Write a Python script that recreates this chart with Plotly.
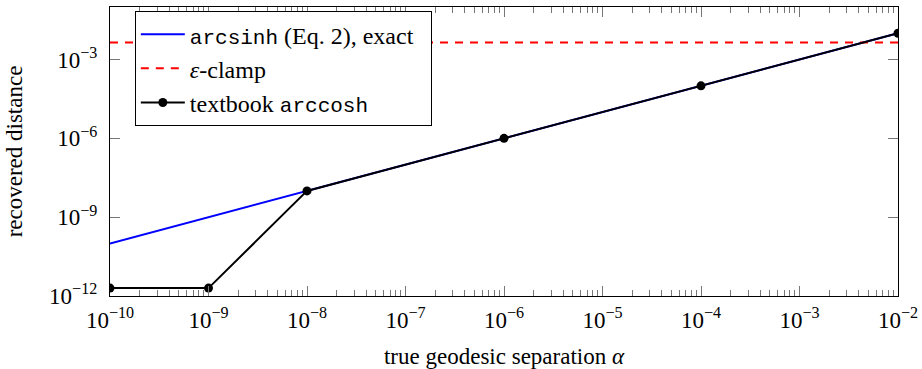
import plotly.graph_objects as go

# ---- data ----
alpha = [1e-10, 1e-9, 1e-8, 1e-6, 1e-4, 1e-2]
arcsinh_exact = [1e-10, 1e-9, 1e-8, 1e-6, 1e-4, 1e-2]
textbook_arccosh = [2e-12, 2e-12, 1e-8, 1e-6, 1e-4, 1e-2]
eps_clamp_value = 4.5e-3
clamp_x = [1e-10, 1e-2]

x_tick_vals = [1e-10, 1e-9, 1e-8, 1e-7, 1e-6, 1e-5, 1e-4, 1e-3, 1e-2]
x_tick_text = ["10<sup>−10</sup>", "10<sup>−9</sup>", "10<sup>−8</sup>", "10<sup>−7</sup>",
               "10<sup>−6</sup>", "10<sup>−5</sup>", "10<sup>−4</sup>", "10<sup>−3</sup>",
               "10<sup>−2</sup>"]
y_tick_vals = [1e-12, 1e-9, 1e-6, 1e-3]
y_tick_text = ["10<sup>−12</sup>", "10<sup>−9</sup>", "10<sup>−6</sup>", "10<sup>−3</sup>"]

SERIF = "Liberation Serif"
MONO_SPAN = '<span style="font-family:Liberation Mono;font-size:21px">{}</span>'

fig = go.Figure()
fig.add_trace(go.Scatter(
    x=alpha, y=arcsinh_exact, mode="lines",
    line=dict(color="#0000ff", width=2),
    name=MONO_SPAN.format("arcsinh") + " (Eq. 2), exact&nbsp;&nbsp;",
    legendgroup="a",
))
fig.add_trace(go.Scatter(
    x=clamp_x, y=[eps_clamp_value] * len(clamp_x), mode="lines",
    line=dict(color="#ff0000", width=2, dash="8px,7px"),
    name="<i>ε</i>-clamp",
    legendgroup="b",
))
fig.add_trace(go.Scatter(
    x=alpha, y=textbook_arccosh, mode="lines+markers",
    line=dict(color="#000000", width=2),
    marker=dict(color="#000000", size=9),
    name="textbook " + MONO_SPAN.format("arccosh"),
    legendgroup="c",
))

axis_common = dict(
    type="log",
    showgrid=False,
    zeroline=False,
    showline=True,
    linecolor="black",
    linewidth=1.3,
    mirror="allticks",
    ticks="inside",
    ticklen=10,
    tickwidth=1,
    tickcolor="#777",
    tickfont=dict(family=SERIF, size=23, color="black"),
)

fig.update_xaxes(
    **axis_common,
    range=[-10, -2],
    tickmode="array", tickvals=x_tick_vals, ticktext=x_tick_text,
    ticklabelstandoff=3,
    minor=dict(ticks="inside", ticklen=6, tickwidth=1, tickcolor="#777", dtick="D1", showgrid=False),
    title=dict(text="true geodesic separation <i>α</i>", font=dict(family=SERIF, size=23, color="black"),
               standoff=18),
)
fig.update_yaxes(
    **axis_common,
    range=[-12, -1],
    tickmode="array", tickvals=y_tick_vals, ticktext=y_tick_text,
    ticklabelstandoff=7,
    title=dict(text="recovered distance", font=dict(family=SERIF, size=23, color="black"),
               standoff=20),
)

fig.update_layout(
    width=922, height=369,
    margin=dict(l=110, r=24, t=7, b=73, autoexpand=False),
    plot_bgcolor="white",
    paper_bgcolor="white",
    font=dict(family=SERIF, size=22, color="black"),
    showlegend=True,
    legend=dict(
        x=0.0315, y=0.986, xanchor="left", yanchor="top",
        bgcolor="white", bordercolor="black", borderwidth=1,
        font=dict(family=SERIF, size=24, color="black"),
        itemwidth=44, tracegroupgap=0, traceorder="normal",
    ),
)

fig.write_html("out.html", config={"displayModeBar": False},
               post_script="document.body.style.margin='0';")
